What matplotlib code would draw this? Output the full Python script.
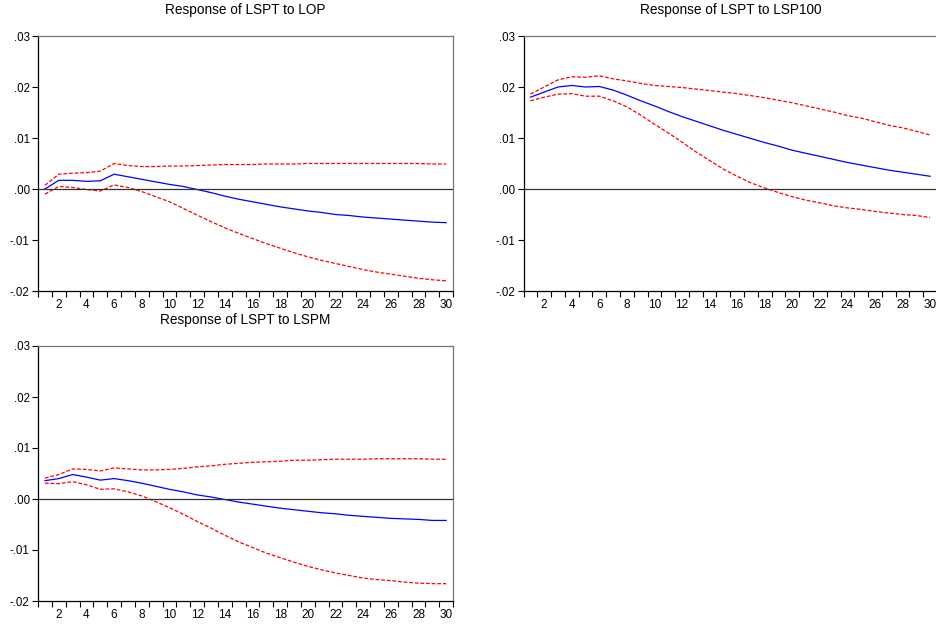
import numpy as np
import matplotlib.pyplot as plt
from matplotlib.ticker import FixedLocator, FuncFormatter

plt.rcParams['font.family'] = ['Liberation Sans', 'DejaVu Sans']

periods = np.arange(1, 31)

# Response of LSPT to LOP
lop_resp = [0.0000, 0.0017, 0.0017, 0.0015, 0.0016, 0.0029, 0.0024, 0.0019, 0.0014, 0.0009,
            0.0005, -0.0001, -0.0007, -0.0014, -0.0020, -0.0025, -0.0030, -0.0035, -0.0039, -0.0043,
            -0.0046, -0.0050, -0.0052, -0.0055, -0.0057, -0.0059, -0.0061, -0.0063, -0.0065, -0.0066]
lop_upper = [0.0007, 0.0029, 0.0031, 0.0032, 0.0035, 0.0050, 0.0046, 0.0044, 0.0044, 0.0045,
             0.0045, 0.0046, 0.0047, 0.0048, 0.0048, 0.0048, 0.0049, 0.0049, 0.0049, 0.0050,
             0.0050, 0.0050, 0.0050, 0.0050, 0.0050, 0.0050, 0.0050, 0.0050, 0.0049, 0.0049]
lop_lower = [-0.0010, 0.0005, 0.0003, -0.0001, -0.0004, 0.0008, 0.0003, -0.0005, -0.0015, -0.0025,
             -0.0038, -0.0051, -0.0064, -0.0076, -0.0087, -0.0097, -0.0107, -0.0116, -0.0125, -0.0133,
             -0.0140, -0.0146, -0.0152, -0.0158, -0.0163, -0.0167, -0.0171, -0.0175, -0.0178, -0.0180]

# Response of LSPT to LSP100
sp100_resp = [0.0180, 0.0190, 0.0200, 0.0203, 0.0200, 0.0201, 0.0194, 0.0184, 0.0173, 0.0163,
              0.0152, 0.0142, 0.0133, 0.0124, 0.0115, 0.0107, 0.0099, 0.0091, 0.0084, 0.0076,
              0.0070, 0.0064, 0.0058, 0.0052, 0.0047, 0.0042, 0.0037, 0.0033, 0.0029, 0.0025]
sp100_upper = [0.0186, 0.0200, 0.0214, 0.0220, 0.0219, 0.0222, 0.0216, 0.0212, 0.0207, 0.0203,
               0.0201, 0.0199, 0.0196, 0.0193, 0.0190, 0.0187, 0.0183, 0.0179, 0.0174, 0.0169,
               0.0163, 0.0157, 0.0151, 0.0144, 0.0139, 0.0132, 0.0125, 0.0120, 0.0113, 0.0106]
sp100_lower = [0.0173, 0.0180, 0.0186, 0.0187, 0.0182, 0.0182, 0.0173, 0.0161, 0.0145, 0.0127,
               0.0110, 0.0092, 0.0073, 0.0056, 0.0039, 0.0025, 0.0012, 0.0002, -0.0007, -0.0015,
               -0.0022, -0.0027, -0.0033, -0.0037, -0.0040, -0.0044, -0.0047, -0.0050, -0.0052, -0.0056]

# Response of LSPT to LSPM
spm_resp = [0.0036, 0.0040, 0.0048, 0.0043, 0.0037, 0.0040, 0.0036, 0.0031, 0.0025, 0.0019,
            0.0014, 0.0008, 0.0004, -0.0001, -0.0006, -0.0010, -0.0014, -0.0018, -0.0021, -0.0024,
            -0.0027, -0.0029, -0.0032, -0.0034, -0.0036, -0.0038, -0.0039, -0.0040, -0.0042, -0.0042]
spm_upper = [0.0041, 0.0048, 0.0059, 0.0058, 0.0055, 0.0061, 0.0059, 0.0057, 0.0057, 0.0058,
             0.0060, 0.0063, 0.0065, 0.0068, 0.0070, 0.0072, 0.0073, 0.0074, 0.0076, 0.0076,
             0.0077, 0.0078, 0.0078, 0.0078, 0.0079, 0.0079, 0.0079, 0.0079, 0.0078, 0.0078]
spm_lower = [0.0031, 0.0030, 0.0034, 0.0028, 0.0019, 0.0020, 0.0014, 0.0006, -0.0005, -0.0017,
             -0.0030, -0.0044, -0.0057, -0.0071, -0.0084, -0.0095, -0.0106, -0.0115, -0.0124, -0.0132,
             -0.0139, -0.0145, -0.0150, -0.0155, -0.0158, -0.0160, -0.0163, -0.0165, -0.0166, -0.0166]

y_ticks = [-0.02, -0.01, 0.00, 0.01, 0.02, 0.03]


def ylabel_fmt(v, pos):
    s = "%.2f" % v
    return s.replace("0.", ".")


def draw_panel(ax, title, resp, upper, lower):
    ax.plot(periods, resp, color="blue", lw=0.9)
    ax.plot(periods, upper, color="red", lw=0.9, ls=(0, (3, 1.5)))
    ax.plot(periods, lower, color="red", lw=0.9, ls=(0, (3, 1.5)))
    ax.axhline(0, color="#333333", lw=0.9)

    ax.set_xlim(0.5, 30.5)
    ax.set_ylim(-0.02, 0.03)

    ax.yaxis.set_major_locator(FixedLocator(y_ticks))
    ax.yaxis.set_major_formatter(FuncFormatter(ylabel_fmt))
    ax.tick_params(axis="y", length=4, width=0.8, pad=2, labelsize=8.3)

    ax.xaxis.set_major_locator(FixedLocator(list(range(2, 31, 2))))
    ax.xaxis.set_minor_locator(FixedLocator(np.arange(0.5, 31, 1.0)))
    ax.tick_params(axis="x", which="major", length=0, pad=6, labelsize=8.5)
    ax.tick_params(axis="x", which="minor", length=4, width=0.8)

    ax.spines["left"].set_color("black")
    ax.spines["bottom"].set_color("black")
    ax.spines["top"].set_color("#777777")
    ax.spines["right"].set_color("#777777")
    for sp in ax.spines.values():
        sp.set_linewidth(0.9)

    ax.set_title(title, fontsize=9.8, pad=16)


fig = plt.figure(figsize=(9.37, 6.25), dpi=100)

ax1 = fig.add_axes([0.0406, 0.5344, 0.4429, 0.408])
ax2 = fig.add_axes([0.5587, 0.5344, 0.4413, 0.408])
ax3 = fig.add_axes([0.0406, 0.0384, 0.4429, 0.408])

draw_panel(ax1, "Response of LSPT to LOP", lop_resp, lop_upper, lop_lower)
draw_panel(ax2, "Response of LSPT to LSP100", sp100_resp, sp100_upper, sp100_lower)
draw_panel(ax3, "Response of LSPT to LSPM", spm_resp, spm_upper, spm_lower)

fig.savefig("out.png", dpi=100)
